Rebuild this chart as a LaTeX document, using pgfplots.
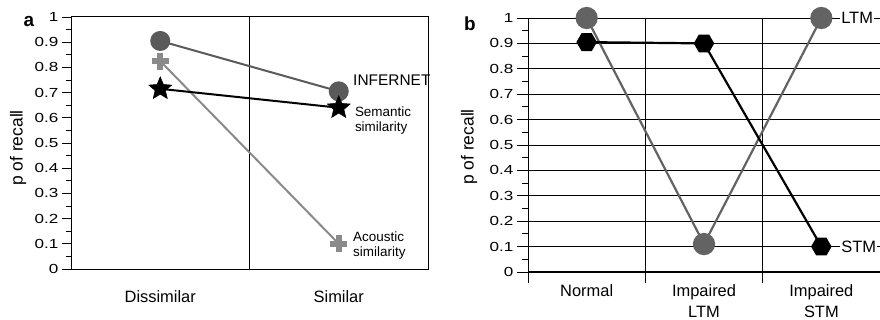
\documentclass[border=0pt]{standalone}
\usepackage{pgfplots}
\pgfplotsset{compat=1.18}
\usepackage{fontspec}
\setmainfont{Liberation Sans}
\usepackage{graphicx}

\definecolor{cinf}{HTML}{5A5A5A}
\definecolor{cac}{HTML}{8A8A8A}
\definecolor{cltm}{HTML}{636363}

\newcommand\sx[1]{\scalebox{1.3}[1]{#1}}

\pgfdeclareplotmark{fstar}{%
  \pgfpathmoveto{\pgfpointpolar{90}{\pgfplotmarksize}}%
  \pgfpathlineto{\pgfpointpolar{126}{0.45\pgfplotmarksize}}%
  \pgfpathlineto{\pgfpointpolar{162}{\pgfplotmarksize}}%
  \pgfpathlineto{\pgfpointpolar{198}{0.45\pgfplotmarksize}}%
  \pgfpathlineto{\pgfpointpolar{234}{\pgfplotmarksize}}%
  \pgfpathlineto{\pgfpointpolar{270}{0.45\pgfplotmarksize}}%
  \pgfpathlineto{\pgfpointpolar{306}{\pgfplotmarksize}}%
  \pgfpathlineto{\pgfpointpolar{342}{0.45\pgfplotmarksize}}%
  \pgfpathlineto{\pgfpointpolar{18}{\pgfplotmarksize}}%
  \pgfpathlineto{\pgfpointpolar{54}{0.45\pgfplotmarksize}}%
  \pgfpathclose
  \pgfusepathqfillstroke}

\pgfdeclareplotmark{fhex}{%
  \pgfpathmoveto{\pgfpointpolar{0}{\pgfplotmarksize}}%
  \pgfpathlineto{\pgfpointpolar{60}{\pgfplotmarksize}}%
  \pgfpathlineto{\pgfpointpolar{120}{\pgfplotmarksize}}%
  \pgfpathlineto{\pgfpointpolar{180}{\pgfplotmarksize}}%
  \pgfpathlineto{\pgfpointpolar{240}{\pgfplotmarksize}}%
  \pgfpathlineto{\pgfpointpolar{300}{\pgfplotmarksize}}%
  \pgfpathclose
  \pgfusepathqfillstroke}

\begin{document}
\begin{tikzpicture}
\useasboundingbox (0,0) rectangle (880bp,320bp);

\node[font=\bfseries\fontsize{19}{20}\selectfont] at (29bp,298bp) {a};
\node[font=\bfseries\fontsize{19}{20}\selectfont] at (470bp,296bp) {b};
\node[rotate=90,font=\fontsize{17.5}{19}\selectfont] at (18bp,172bp) {p of recall};
\node[rotate=90,font=\fontsize{17.5}{19}\selectfont] at (469bp,173bp) {p of recall};

% ---------------- panel a
\begin{axis}[
  at={(71bp,51bp)}, anchor=south west, scale only axis,
  width=357bp, height=252bp,
  xmin=-0.5, xmax=1.5, ymin=0, ymax=1, clip=false,
  axis line style={black, line width=1bp},
  xtick={0,1}, xticklabels={Dissimilar,Similar},
  xtick style={draw=none},
  x tick label style={font=\fontsize{16.5}{18}\selectfont, yshift=-9bp},
  ytick={0,0.1,0.2,0.3,0.4,0.5,0.6,0.7,0.8,0.9,1},
  yticklabels={\sx{0},\sx{0.1},\sx{0.2},\sx{0.3},\sx{0.4},\sx{0.5},\sx{0.6},\sx{0.7},\sx{0.8},\sx{0.9},\sx{1}},
  y tick label style={font=\fontsize{13.2}{14}\selectfont},
  ytick pos=left, minor y tick num=1,
  tick align=outside, major tick length=9bp, minor tick length=5bp,
  ytick style={black, line width=0.9bp},
]
\draw[black, line width=0.8bp] (axis cs:0.5,0) -- (axis cs:0.5,1);
\addplot[cinf, line width=2bp, mark=*, mark size=9bp, mark options={fill=cinf, draw=cinf}]
  coordinates {(0,0.905) (1,0.705)};
\addplot[cac, line width=2bp, mark=+, mark size=8.5bp, mark options={line width=6bp, draw=cac}]
  coordinates {(0,0.825) (1,0.10)};
\addplot[black, line width=2bp, mark=fstar, mark size=12bp, mark options={fill=black, draw=black, line width=0.5bp}]
  coordinates {(0,0.715) (1,0.64)};
\node[anchor=west, font=\fontsize{15.5}{17}\selectfont, inner sep=0pt] at (axis cs:1.08,0.75) {INFERNET};
\node[anchor=west, align=left, font=\fontsize{13.5}{15}\selectfont, inner sep=0pt] at (axis cs:1.09,0.59) {Semantic\\similarity};
\node[anchor=west, align=left, font=\fontsize{13.5}{15}\selectfont, inner sep=0pt] at (axis cs:1.08,0.095) {Acoustic\\similarity};
\end{axis}

% ---------------- panel b
\begin{axis}[
  at={(528bp,48bp)}, anchor=south west, scale only axis,
  width=352bp, height=254bp,
  xmin=-0.5, xmax=2.5, ymin=0, ymax=1, clip=false,
  axis x line*=bottom, axis y line*=left,
  x axis line style={black, line width=2bp},
  y axis line style={black, line width=0.9bp},
  xtick={-0.5,0.5,1.5},
  xticklabels={Normal,{Impaired\\LTM},{Impaired\\STM}},
  x tick label style={align=center, font=\fontsize{16.5}{21}\selectfont, xshift=58.7bp, yshift=2bp},
  ytick={0,0.1,0.2,0.3,0.4,0.5,0.6,0.7,0.8,0.9,1},
  yticklabels={\sx{0},\sx{0.1},\sx{0.2},\sx{0.3},\sx{0.4},\sx{0.5},\sx{0.6},\sx{0.7},\sx{0.8},\sx{0.9},\sx{1}},
  y tick label style={font=\fontsize{13.2}{14}\selectfont},
  minor y tick num=1,
  tick align=outside, major tick length=11bp, minor tick length=6bp,
  tick style={black, line width=0.9bp},
  xmajorgrids, ymajorgrids,
  major grid style={black, line width=0.8bp},
]
\addplot[cltm, line width=2.2bp, mark=*, mark size=10bp, mark options={fill=cltm, draw=cltm}]
  coordinates {(0,1.0) (1,0.11) (2,1.0)};
\addplot[black, line width=2.2bp, mark=fhex, mark size=9bp, mark options={fill=black, draw=black}]
  coordinates {(0,0.905) (1,0.90) (2,0.10)};
\node[anchor=west, fill=white, font=\fontsize{16.5}{18}\selectfont, inner sep=1bp] at (axis cs:2.16,1.0) {LTM};
\node[anchor=west, fill=white, font=\fontsize{16.5}{18}\selectfont, inner sep=1bp] at (axis cs:2.16,0.1) {STM};
\end{axis}
\end{tikzpicture}
\end{document}
